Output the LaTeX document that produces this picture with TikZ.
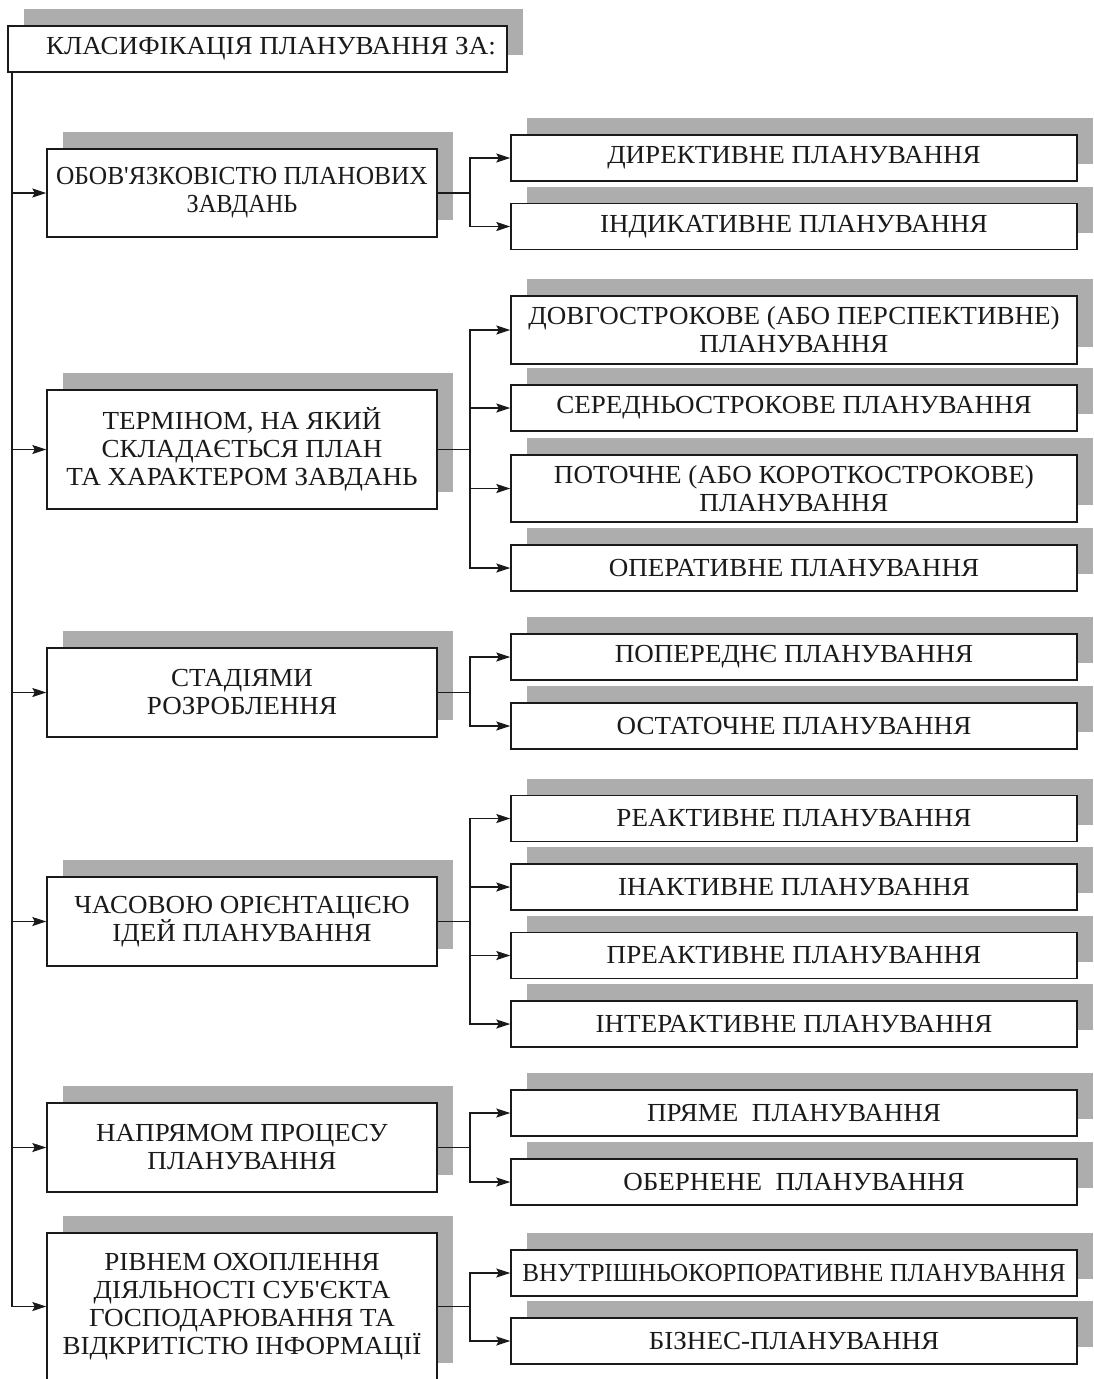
\documentclass[tikz,border=0pt]{standalone}
\usepackage{fontspec}
\usepackage{graphicx}
\newfontfamily\cardfont{Liberation Serif}[FakeStretch=1.04]
\usetikzlibrary{arrows.meta,shadows}
\definecolor{shadowgray}{HTML}{ADADAD}
\definecolor{ink}{HTML}{1A1A1A}
% horizontally condensed line
\newcommand{\narrowline}[2]{\scalebox{#1}[1]{#2}}

\begin{document}
\begin{tikzpicture}[x=1pt,y=-1pt,
  font=\cardfont\fontsize{26}{28}\selectfont,
  card/.style={draw=ink, line width=1.4pt, fill=white, text=ink, align=center,
    inner sep=0pt, minimum height=46pt,
    general shadow={fill=shadowgray, shadow xshift=16pt, shadow yshift=17pt}},
  group/.style={card, minimum width=390pt},
  leaf/.style={card, minimum width=566pt},
  conn/.style={draw=ink, line width=1.3pt,
    -{Stealth[length=14pt,width=9pt,inset=2.5pt]}},
]
\useasboundingbox (0,0) rectangle (1094,1379);

% heading
\node[card, minimum width=499pt] (title) at (257.5,49)
  {\hspace*{27pt}КЛАСИФІКАЦІЯ ПЛАНУВАННЯ ЗА:};

% classification criteria
\node[group, minimum height=88pt]  (b1) at (242,193)    {\narrowline{0.94}{ОБОВ'ЯЗКОВІСТЮ ПЛАНОВИХ}\\\narrowline{0.9}{ЗАВДАНЬ}};
\node[group, minimum height=119pt] (b2) at (242,449.5)  {ТЕРМІНОМ, НА ЯКИЙ\\СКЛАДАЄТЬСЯ ПЛАН\\ТА ХАРАКТЕРОМ ЗАВДАНЬ};
\node[group, minimum height=89pt]  (b3) at (242,692.5)  {СТАДІЯМИ\\РОЗРОБЛЕННЯ};
\node[group, minimum height=89pt]  (b4) at (242,921.5)  {ЧАСОВОЮ ОРІЄНТАЦІЄЮ\\ІДЕЙ ПЛАНУВАННЯ};
\node[group, minimum height=89pt]  (b5) at (242,1147.5) {НАПРЯМОМ ПРОЦЕСУ\\ПЛАНУВАННЯ};
\node[group, minimum height=147pt] (b6) at (242,1306.5) {РІВНЕМ ОХОПЛЕННЯ\\ДІЯЛЬНОСТІ СУБ'ЄКТА\\ГОСПОДАРЮВАННЯ ТА\\ВІДКРИТІСТЮ ІНФОРМАЦІЇ};

% kinds of planning
\node[leaf] (c11) at (794,158)   {ДИРЕКТИВНЕ ПЛАНУВАННЯ};
\node[leaf] (c12) at (794,226.5) {ІНДИКАТИВНЕ ПЛАНУВАННЯ};

\node[leaf, minimum height=68pt] (c21) at (794,330)   {ДОВГОСТРОКОВЕ (АБО ПЕРСПЕКТИВНЕ)\\ПЛАНУВАННЯ};
\node[leaf] (c22) at (794,408)   {СЕРЕДНЬОСТРОКОВЕ ПЛАНУВАННЯ};
\node[leaf, minimum height=67pt] (c23) at (794,488.5) {ПОТОЧНЕ (АБО КОРОТКОСТРОКОВЕ)\\ПЛАНУВАННЯ};
\node[leaf] (c24) at (794,568)   {ОПЕРАТИВНЕ ПЛАНУВАННЯ};

\node[leaf] (c31) at (794,657)   {ПОПЕРЕДНЄ ПЛАНУВАННЯ};
\node[leaf] (c32) at (794,726)   {ОСТАТОЧНЕ ПЛАНУВАННЯ};

\node[leaf] (c41) at (794,818.5) {РЕАКТИВНЕ ПЛАНУВАННЯ};
\node[leaf] (c42) at (794,887)   {ІНАКТИВНЕ ПЛАНУВАННЯ};
\node[leaf] (c43) at (794,955.5) {ПРЕАКТИВНЕ ПЛАНУВАННЯ};
\node[leaf] (c44) at (794,1024)  {ІНТЕРАКТИВНЕ ПЛАНУВАННЯ};

\node[leaf] (c51) at (794,1113)  {ПРЯМЕ\ \ ПЛАНУВАННЯ};
\node[leaf] (c52) at (794,1182)  {ОБЕРНЕНЕ\ \ ПЛАНУВАННЯ};

\node[leaf] (c61) at (794,1273)  {\narrowline{0.93}{ВНУТРІШНЬОКОРПОРАТИВНЕ ПЛАНУВАННЯ}};
\node[leaf] (c62) at (794,1341)  {БІЗНЕС-ПЛАНУВАННЯ};

% main vertical line with branches to each criterion
\coordinate (trunk) at (12,72);
\coordinate (fork) at (470,0);
\draw[conn] (trunk) |- (b6.west);
\foreach \b in {b1,b2,b3,b4,b5}
  \draw[conn] (trunk |- \b.west) -- (\b.west);

% criterion -> kinds
\foreach \p/\cs in {b1/{c11,c12}, b2/{c21,c22,c23,c24}, b3/{c31,c32},
                    b4/{c41,c42,c43,c44}, b5/{c51,c52}, b6/{c61,c62}}
  \foreach \c in \cs
    \draw[conn] (\p.east) -- (\p.east -| fork) |- (\c.west);
\end{tikzpicture}
\end{document}
